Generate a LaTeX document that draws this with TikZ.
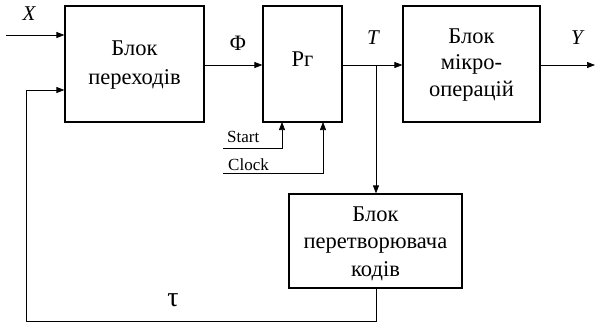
\documentclass[tikz,border=0pt]{standalone}
\usepackage{fontspec}
\setmainfont{Liberation Serif}
\newfontfamily\tnr{Liberation Serif}
\usetikzlibrary{arrows.meta}
\begin{document}
\begin{tikzpicture}[x=1pt,y=-1pt,
  blk/.style={draw,line width=1.2pt,inner sep=0pt},
  lbl/.style={font=\tnr\fontsize{22.5}{28}\selectfont,align=center,inner sep=0pt},
  sml/.style={font=\tnr\fontsize{17}{19}\selectfont,inner sep=0pt,anchor=base west},
  sig/.style={font=\tnr\fontsize{21}{24}\selectfont\itshape,inner sep=0pt},
  conn/.style={line width=0.7pt},
  arr/.style={conn,-{Triangle[length=8pt,width=6pt]}}]
\useasboundingbox (0,0) rectangle (595,325);
% blocks
\node[blk,minimum width=139pt,minimum height=116pt] (b1) at (134.5,64) {};
\node[lbl,font=\tnr\fontsize{22.5}{29}\selectfont] (t1) at (134.5,65.5) {Блок\\переходів};
\node[blk,minimum width=79pt,minimum height=116pt] (rg) at (302.5,64) {};
\node[lbl] (t2) at (302.5,59) {Рг};
\node[blk,minimum width=137pt,minimum height=116pt] (b3) at (471.5,64) {};
\node[lbl,font=\tnr\fontsize{22.5}{26.5}\selectfont] (t3) at (471.5,65) {Блок\\мікро-\\операцій};
\node[blk,minimum width=173pt,minimum height=94pt] (b4) at (375.5,241) {};
\node[lbl,font=\tnr\fontsize{22.5}{27.5}\selectfont] (t4) at (375.5,243.5) {Блок\\перетворювача\\кодів};
% inputs / outputs
\coordinate (xin) at (6,35);
\draw[arr] (xin) -- (b1.west |- xin);
\node[sig] (lx) at (29,14) {X};
\draw[arr] (b1.east |- 0,65) -- (rg.west |- 0,65);
\node[font=\tnr\fontsize{22}{24}\selectfont,inner sep=0pt] (lf) at (238,43) {Φ};
\coordinate (tj) at (376,65);
\draw[arr] (rg.east |- tj) -- (b3.west |- tj);
\node[sig] (lt) at (373,38) {T};
\coordinate (yout) at (595,65);
\draw[arr] (b3.east |- yout) -- (yout);
\node[sig] (ly) at (577,38) {Y};
% T down
\draw[arr] (tj) -- (b4.north -| tj);
% Start / Clock
\coordinate (s0) at (223,148.5);
\coordinate (c0) at (223,173);
\draw[arr] (s0) -- (282,148.5) -- (282,122);
\draw[arr] (c0) -- (323,173) -- (323,122);
\node[sml] (ls) at (227,142.5) {Start};
\node[sml] (lc) at (228,170) {Clock};
% feedback
\coordinate (f1) at (376,321);
\coordinate (f2) at (26,321);
\coordinate (f3) at (26,90);
\draw[arr] (b4.south -| f1) -- (f1) -- (f2) -- (f3) -- (b1.west |- f3);
\node[font=\tnr\fontsize{28}{28}\selectfont,inner sep=0pt] (lt2) at (173,300) {τ};
\end{tikzpicture}
\end{document}
